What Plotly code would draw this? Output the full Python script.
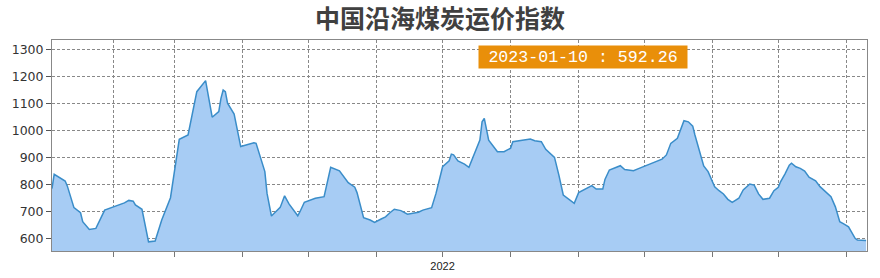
import plotly.graph_objects as go

title_text = "中国沿海煤炭运价指数"

dates = [
    "2022-01-04", "2022-01-05", "2022-01-10", "2022-01-11", "2022-01-14", "2022-01-17", "2022-01-18",
    "2022-01-21", "2022-01-24", "2022-01-25", "2022-01-28", "2022-02-06", "2022-02-08", "2022-02-10",
    "2022-02-11", "2022-02-14", "2022-02-15", "2022-02-17", "2022-02-20", "2022-02-23", "2022-02-27",
    "2022-03-01", "2022-03-03", "2022-03-07", "2022-03-08", "2022-03-11", "2022-03-15", "2022-03-17",
    "2022-03-18", "2022-03-21", "2022-03-22", "2022-03-23", "2022-03-24", "2022-03-25", "2022-03-28",
    "2022-03-31", "2022-04-06", "2022-04-07", "2022-04-11", "2022-04-12", "2022-04-14", "2022-04-18",
    "2022-04-20", "2022-04-22", "2022-04-24", "2022-04-26", "2022-04-27", "2022-04-29", "2022-05-04",
    "2022-05-08", "2022-05-11", "2022-05-15", "2022-05-19", "2022-05-22", "2022-05-23", "2022-05-26",
    "2022-05-29", "2022-05-31", "2022-06-03", "2022-06-05", "2022-06-07", "2022-06-09", "2022-06-12",
    "2022-06-15", "2022-06-20", "2022-06-22", "2022-06-26", "2022-06-28", "2022-07-01", "2022-07-04",
    "2022-07-05", "2022-07-06", "2022-07-08", "2022-07-11", "2022-07-13", "2022-07-18", "2022-07-19",
    "2022-07-20", "2022-07-22", "2022-07-26", "2022-07-29", "2022-08-01", "2022-08-02", "2022-08-05",
    "2022-08-10", "2022-08-12", "2022-08-15", "2022-08-17", "2022-08-21", "2022-08-23", "2022-08-25",
    "2022-08-30", "2022-09-01", "2022-09-07", "2022-09-09", "2022-09-12", "2022-09-13", "2022-09-15",
    "2022-09-20", "2022-09-22", "2022-09-26", "2022-09-28", "2022-10-09", "2022-10-11", "2022-10-13",
    "2022-10-16", "2022-10-19", "2022-10-21", "2022-10-23", "2022-10-24", "2022-10-26", "2022-10-28",
    "2022-10-30", "2022-11-02", "2022-11-04", "2022-11-06", "2022-11-08", "2022-11-10", "2022-11-13",
    "2022-11-15", "2022-11-18", "2022-11-20", "2022-11-22", "2022-11-24", "2022-11-27", "2022-11-29",
    "2022-12-01", "2022-12-02", "2022-12-04", "2022-12-06", "2022-12-07", "2022-12-09", "2022-12-11",
    "2022-12-13", "2022-12-15", "2022-12-17", "2022-12-18", "2022-12-20", "2022-12-23", "2022-12-25",
    "2022-12-27", "2022-12-29", "2022-12-31", "2023-01-02", "2023-01-05", "2023-01-06", "2023-01-10",
]

values = [
    785, 838, 813, 794, 714, 695, 662,
    633, 637, 653, 705, 732, 741, 738,
    724, 708, 668, 587, 590, 668, 751,
    866, 968, 984, 1027, 1145, 1186, 1089,
    1050, 1071, 1120, 1151, 1145, 1102, 1062,
    941, 955, 953, 848, 767, 683, 715,
    758, 728, 705, 684, 699, 734, 749,
    755, 864, 851, 807, 790, 770, 677,
    668, 659, 672, 680, 695, 708, 703,
    690, 697, 705, 714, 767, 866, 888,
    913, 910, 888, 876, 864, 965, 1033,
    1046, 965, 922, 922, 935, 959, 962,
    969, 963, 959, 931, 901, 835, 761,
    730, 770, 796, 783, 783, 819, 854,
    870, 856, 851, 858, 894, 910, 953,
    972, 1037, 1033, 1017, 984, 928, 869,
    848, 792, 777, 765, 745, 734, 749,
    780, 802, 798, 765, 745, 749, 777,
    790, 810, 839, 872, 879, 866, 860,
    850, 827, 820, 814, 792, 771, 755,
    717, 662, 653, 643, 600, 594, 592.26,
]

x_tick_vals = ["2022-02-01", "2022-03-01", "2022-04-01", "2022-05-01", "2022-06-01", "2022-07-01",
               "2022-08-01", "2022-09-01", "2022-10-01", "2022-11-01", "2022-12-01", "2023-01-01"]
x_tick_text = ["", "", "", "", "", "2022", "", "", "", "", "", ""]
y_tick_vals = [600, 700, 800, 900, 1000, 1100, 1200, 1300]

fig = go.Figure()
fig.add_trace(go.Scatter(
    x=dates, y=values, mode="lines", fill="tozeroy",
    line=dict(color="#3A8DC9", width=1.5),
    fillcolor="#A7CCF4", hoverinfo="skip",
))

fig.update_layout(
    width=880, height=278,
    margin=dict(l=52, r=13, t=40, b=27),
    paper_bgcolor="white", plot_bgcolor="white",
    showlegend=False,
    title=dict(text=title_text, x=0.5, xanchor="center", y=0.93, yanchor="middle",
               font=dict(family="Noto Sans CJK SC", size=25, color="#404040", weight="bold")),
    annotations=[dict(
        text=f"{dates[-1]} : {values[-1]}",
        xref="paper", yref="paper", x=0.651, y=0.918, xanchor="center", yanchor="middle",
        showarrow=False, bgcolor="#E98F0A", width=208, height=22, borderpad=0,
        font=dict(family="Liberation Mono", size=16.6, color="white"),
    )],
)

fig.update_xaxes(
    type="date", range=["2022-01-04", "2023-01-10 10:00"],
    tickmode="array", tickvals=x_tick_vals, ticktext=x_tick_text,
    ticks="outside", ticklen=5, tickcolor="#777",
    showgrid=True, gridcolor="#888", griddash="3px,2px", gridwidth=1,
    showline=True, linecolor="#888", linewidth=1, mirror=True,
    tickfont=dict(family="Liberation Sans", size=11, color="#222"),
    zeroline=False, automargin=False,
)
fig.update_yaxes(
    range=[553, 1337], tickmode="array", tickvals=y_tick_vals,
    ticks="outside", ticklen=5, tickcolor="#555",
    showgrid=True, gridcolor="#888", griddash="3px,2px", gridwidth=1,
    showline=True, linecolor="#888", linewidth=1, mirror=True,
    tickfont=dict(family="DejaVu Sans", size=12.5, color="#333"),
    zeroline=False, automargin=False,
)

fig.write_html("out.html")
